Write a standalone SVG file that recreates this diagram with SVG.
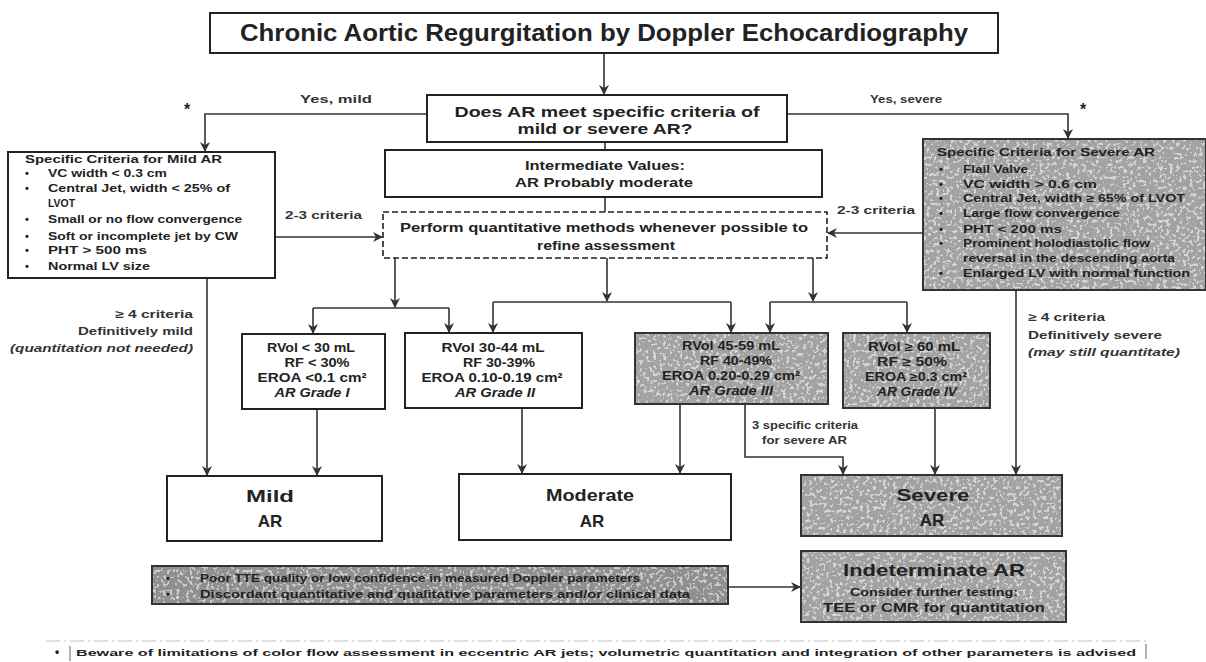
<svg xmlns="http://www.w3.org/2000/svg" width="1206" height="662" viewBox="0 0 1206 662">
  <style>
    text { font-family: "Liberation Sans", Arial, sans-serif; font-weight: bold; fill: #222; }
    .box { fill: #fff; stroke: #222; stroke-width: 2; }
    .grey { fill: #a2a2a2; stroke: #333; stroke-width: 2; }
    .dark { fill: #8f8f8f; stroke: #333; stroke-width: 2; }
    .dash { fill: #fff; stroke: #222; stroke-width: 1.6; stroke-dasharray: 6 3; }
    .wire { fill: none; stroke: #333; stroke-width: 1.6; }
    .arr { fill: none; stroke: #333; stroke-width: 1.6; marker-end: url(#head); }
    .c { text-anchor: middle; }
    .r { text-anchor: end; }
    .it { font-style: italic; }
    .sm { font-size: 11px; }
    .gr { font-size: 12px; }
    .md { font-size: 12.5px; }
    .lbl { font-size: 11px; fill: #333; }
    .big { font-size: 17px; }
    .grain { filter: url(#speckle); opacity: 0.55; }
  </style>
  <defs>
    <marker id="head" viewBox="0 0 10 10" refX="9" refY="5" markerWidth="10" markerHeight="10" markerUnits="userSpaceOnUse" orient="auto">
      <path d="M0,0 L10,5 L0,10 L3,5 Z" fill="#333"/>
    </marker>
    <!-- sparse light speckle over the grey panels -->
    <filter id="speckle" x="0" y="0" width="100%" height="100%">
      <feTurbulence type="fractalNoise" baseFrequency="0.3" numOctaves="2" seed="7" result="n"/>
      <feColorMatrix in="n" type="matrix" values="0 0 0 0 1  0 0 0 0 1  0 0 0 0 1  0 0 0 -16 6.9" result="w"/>
      <feComposite in="w" in2="SourceGraphic" operator="in"/>
    </filter>
  </defs>

  <!-- connectors -->
  <g id="connectors">
    <path class="arr" d="M604,53 V94"/>
    <path class="wire" d="M605,142 V150"/>
    <path class="wire" d="M605,197 V212"/>
    <path class="arr" d="M427,114 H205 V151"/>
    <path class="arr" d="M787,114 H1068 V138"/>
    <path class="arr" d="M276,237 H382"/>
    <path class="arr" d="M923,233 H828"/>
    <path class="arr" d="M207,279 V475"/>
    <path class="arr" d="M1016,290 V474"/>
    <path class="arr" d="M395,258 V307"/>
    <path class="arr" d="M313,308 V333"/>
    <path class="arr" d="M449,308 H313 M449,308 V332"/>
    <path class="arr" d="M607,258 V301"/>
    <path class="arr" d="M493,302 V332"/>
    <path class="arr" d="M731,302 H493 M731,302 V332"/>
    <path class="arr" d="M813,258 V301"/>
    <path class="arr" d="M770,302 V332"/>
    <path class="arr" d="M907,302 H770 M907,302 V332"/>
    <path class="arr" d="M317,409 V475"/>
    <path class="arr" d="M522,408 V473"/>
    <path class="arr" d="M680,404 V473"/>
    <path class="arr" d="M745,404 V457 H843 V474"/>
    <path class="arr" d="M935,408 V474"/>
    <path class="arr" d="M728,587 H800"/>
    <text class="lbl" x="300" y="103" textLength="72" lengthAdjust="spacingAndGlyphs">Yes, mild</text>
    <text class="lbl" x="870" y="103" textLength="72" lengthAdjust="spacingAndGlyphs">Yes, severe</text>
    <text x="187" y="115" font-size="16" class="c">*</text>
    <text x="1083" y="115" font-size="16" class="c">*</text>
    <text class="lbl" x="285" y="219" textLength="77" lengthAdjust="spacingAndGlyphs">2-3 criteria</text>
    <text class="lbl" x="837" y="214" textLength="78" lengthAdjust="spacingAndGlyphs">2-3 criteria</text>
    <text class="lbl r" x="193" y="318" textLength="78" lengthAdjust="spacingAndGlyphs">≥ 4 criteria</text>
    <text class="lbl r" x="193" y="335" textLength="115" lengthAdjust="spacingAndGlyphs">Definitively mild</text>
    <text class="lbl r it" x="193" y="352" textLength="183" lengthAdjust="spacingAndGlyphs">(quantitation not needed)</text>
    <text class="lbl" x="1028" y="321" textLength="77" lengthAdjust="spacingAndGlyphs">≥ 4 criteria</text>
    <text class="lbl" x="1028" y="339" textLength="134" lengthAdjust="spacingAndGlyphs">Definitively severe</text>
    <text class="lbl it" x="1028" y="356" textLength="152" lengthAdjust="spacingAndGlyphs">(may still quantitate)</text>
    <text class="lbl" x="752" y="429" font-size="10" textLength="106" lengthAdjust="spacingAndGlyphs">3 specific criteria</text>
    <text class="lbl" x="762" y="444" font-size="10" textLength="85" lengthAdjust="spacingAndGlyphs">for severe AR</text>
  </g>

  <g id="title">
    <rect class="box" x="210" y="13" width="788" height="40"/>
    <text x="240" y="41" font-size="23" textLength="728" lengthAdjust="spacingAndGlyphs">Chronic Aortic Regurgitation by Doppler Echocardiography</text>
  </g>

  <g id="question">
    <rect class="box" x="427" y="95" width="360" height="47"/>
    <text class="c" x="607" y="117" font-size="15" textLength="305" lengthAdjust="spacingAndGlyphs">Does AR meet specific criteria of</text>
    <text class="c" x="605" y="134" font-size="15" textLength="175" lengthAdjust="spacingAndGlyphs">mild or severe AR?</text>
  </g>

  <g id="intermediate">
    <rect class="box" x="385" y="150" width="437" height="47"/>
    <text class="c md" x="605" y="170" textLength="160" lengthAdjust="spacingAndGlyphs">Intermediate Values:</text>
    <text class="c md" x="604" y="187" textLength="178" lengthAdjust="spacingAndGlyphs">AR Probably moderate</text>
  </g>

  <g id="quantitative">
    <rect class="dash" x="383" y="212" width="444" height="46"/>
    <text class="c md" x="604" y="232" textLength="408" lengthAdjust="spacingAndGlyphs">Perform quantitative methods whenever possible to</text>
    <text class="c md" x="606" y="250" textLength="138" lengthAdjust="spacingAndGlyphs">refine assessment</text>
  </g>

  <g id="mild-criteria">
    <rect class="box" x="8" y="152" width="267" height="126"/>
    <text class="sm" x="25" y="163" textLength="197" lengthAdjust="spacingAndGlyphs">Specific Criteria for Mild AR</text>
    <g class="sm">
      <text x="25" y="177">•</text><text x="48" y="177" textLength="119" lengthAdjust="spacingAndGlyphs">VC width &lt; 0.3 cm</text>
      <text x="25" y="192">•</text><text x="48" y="192" textLength="182" lengthAdjust="spacingAndGlyphs">Central Jet, width &lt; 25% of</text>
      <text x="48" y="207" textLength="27" lengthAdjust="spacingAndGlyphs">LVOT</text>
      <text x="25" y="223">•</text><text x="48" y="223" textLength="194" lengthAdjust="spacingAndGlyphs">Small or no flow convergence</text>
      <text x="25" y="240">•</text><text x="48" y="240" textLength="190" lengthAdjust="spacingAndGlyphs">Soft or incomplete jet by CW</text>
      <text x="25" y="254">•</text><text x="48" y="254" textLength="99" lengthAdjust="spacingAndGlyphs">PHT &gt; 500 ms</text>
      <text x="25" y="270">•</text><text x="48" y="270" textLength="102" lengthAdjust="spacingAndGlyphs">Normal LV size</text>
    </g>
  </g>

  <g id="severe-criteria">
    <rect class="grey" x="923" y="139" width="283" height="151"/>
    <rect class="grain" x="924" y="140" width="281" height="149" fill="#a2a2a2"/>
    <text class="sm" x="937" y="156" textLength="218" lengthAdjust="spacingAndGlyphs">Specific Criteria for Severe AR</text>
    <g class="sm">
      <text x="939" y="173">•</text><text x="963" y="173" textLength="65" lengthAdjust="spacingAndGlyphs">Flail Valve</text>
      <text x="939" y="188">•</text><text x="963" y="188" textLength="134" lengthAdjust="spacingAndGlyphs">VC width &gt; 0.6 cm</text>
      <text x="939" y="202">•</text><text x="963" y="202" textLength="222" lengthAdjust="spacingAndGlyphs">Central Jet, width ≥ 65% of LVOT</text>
      <text x="939" y="217">•</text><text x="963" y="217" textLength="157" lengthAdjust="spacingAndGlyphs">Large flow convergence</text>
      <text x="939" y="233">•</text><text x="963" y="233" textLength="99" lengthAdjust="spacingAndGlyphs">PHT &lt; 200 ms</text>
      <text x="939" y="247">•</text><text x="963" y="247" textLength="187" lengthAdjust="spacingAndGlyphs">Prominent holodiastolic flow</text>
      <text x="963" y="262" textLength="212" lengthAdjust="spacingAndGlyphs">reversal in the descending aorta</text>
      <text x="939" y="277">•</text><text x="963" y="277" textLength="227" lengthAdjust="spacingAndGlyphs">Enlarged LV with normal function</text>
    </g>
  </g>

  <g id="grade-1">
    <rect class="box" x="242" y="334" width="143" height="75"/>
    <g class="c gr">
      <text x="311" y="352" textLength="88" lengthAdjust="spacingAndGlyphs">RVol &lt; 30 mL</text>
      <text x="317" y="367" textLength="65" lengthAdjust="spacingAndGlyphs">RF &lt; 30%</text>
      <text x="312" y="382" textLength="109" lengthAdjust="spacingAndGlyphs">EROA &lt;0.1 cm²</text>
      <text class="it" x="312" y="397" textLength="75" lengthAdjust="spacingAndGlyphs">AR Grade I</text>
    </g>
  </g>

  <g id="grade-2">
    <rect class="box" x="405" y="333" width="177" height="75"/>
    <g class="c gr">
      <text x="493" y="352" textLength="103" lengthAdjust="spacingAndGlyphs">RVol 30-44 mL</text>
      <text x="499" y="367" textLength="72" lengthAdjust="spacingAndGlyphs">RF 30-39%</text>
      <text x="492" y="382" textLength="141" lengthAdjust="spacingAndGlyphs">EROA 0.10-0.19 cm²</text>
      <text class="it" x="495" y="397" textLength="80" lengthAdjust="spacingAndGlyphs">AR Grade II</text>
    </g>
  </g>

  <g id="grade-3">
    <rect class="grey" x="635" y="333" width="193" height="71"/>
    <rect class="grain" x="636" y="334" width="191" height="69" fill="#a2a2a2"/>
    <g class="c gr">
      <text x="731" y="350" textLength="98" lengthAdjust="spacingAndGlyphs">RVol 45-59 mL</text>
      <text x="736" y="365" textLength="72" lengthAdjust="spacingAndGlyphs">RF 40-49%</text>
      <text x="731" y="380" textLength="138" lengthAdjust="spacingAndGlyphs">EROA 0.20-0.29 cm²</text>
      <text class="it" x="731" y="395" textLength="84" lengthAdjust="spacingAndGlyphs">AR Grade III</text>
    </g>
  </g>

  <g id="grade-4">
    <rect class="grey" x="843" y="333" width="147" height="75"/>
    <rect class="grain" x="844" y="334" width="145" height="73" fill="#a2a2a2"/>
    <g class="c gr">
      <text x="914" y="351" textLength="92" lengthAdjust="spacingAndGlyphs">RVol ≥ 60 mL</text>
      <text x="912" y="366" textLength="70" lengthAdjust="spacingAndGlyphs">RF ≥ 50%</text>
      <text x="916" y="381" textLength="102" lengthAdjust="spacingAndGlyphs">EROA ≥0.3 cm²</text>
      <text class="it" x="917" y="396" textLength="80" lengthAdjust="spacingAndGlyphs">AR Grade IV</text>
    </g>
  </g>

  <g id="mild-ar">
    <rect class="box" x="167" y="476" width="215" height="65"/>
    <text class="c big" x="270" y="502" textLength="48" lengthAdjust="spacingAndGlyphs">Mild</text>
    <text class="c big" x="270" y="527">AR</text>
  </g>

  <g id="moderate-ar">
    <rect class="box" x="459" y="474" width="272" height="66"/>
    <text class="c big" x="590" y="501" textLength="88" lengthAdjust="spacingAndGlyphs">Moderate</text>
    <text class="c big" x="592" y="527">AR</text>
  </g>

  <g id="severe-ar">
    <rect class="grey" x="801" y="475" width="261" height="61"/>
    <rect class="grain" x="802" y="476" width="259" height="59" fill="#a2a2a2"/>
    <text class="c big" x="933" y="501" textLength="73" lengthAdjust="spacingAndGlyphs">Severe</text>
    <text class="c big" x="932" y="526">AR</text>
  </g>

  <g id="limitations">
    <rect class="dark" x="152" y="566" width="576" height="38"/>
    <rect class="grain" x="153" y="567" width="574" height="36" fill="#8f8f8f"/>
    <g class="sm">
      <text x="166" y="582">•</text><text x="200" y="582" textLength="440" lengthAdjust="spacingAndGlyphs">Poor TTE quality or low confidence in measured Doppler parameters</text>
      <text x="166" y="598">•</text><text x="200" y="598" textLength="490" lengthAdjust="spacingAndGlyphs">Discordant quantitative and qualitative parameters and/or clinical data</text>
    </g>
  </g>

  <g id="indeterminate">
    <rect class="grey" x="801" y="551" width="265" height="71"/>
    <rect class="grain" x="802" y="552" width="263" height="69" fill="#a2a2a2"/>
    <text class="c big" x="934" y="576" textLength="182" lengthAdjust="spacingAndGlyphs">Indeterminate AR</text>
    <text class="c sm" x="934" y="596" textLength="168" lengthAdjust="spacingAndGlyphs">Consider further testing:</text>
    <text class="c md" x="934" y="612" textLength="222" lengthAdjust="spacingAndGlyphs">TEE or CMR for quantitation</text>
  </g>

  <g id="footnote">
    <path d="M46,641 H1150" stroke="#c4c4c4" stroke-width="1" stroke-dasharray="14 4 2 4" fill="none"/>
    <path d="M70,646 V661 M1146,644 V659" stroke="#666" stroke-width="1" fill="none"/>
    <text x="57" y="656" font-size="12" class="c">•</text>
    <text x="76" y="656" font-size="9" fill="#444" textLength="1060" lengthAdjust="spacingAndGlyphs">Beware of limitations of color flow assessment in eccentric AR jets; volumetric quantitation and integration of other parameters is advised</text>
  </g>
</svg>
